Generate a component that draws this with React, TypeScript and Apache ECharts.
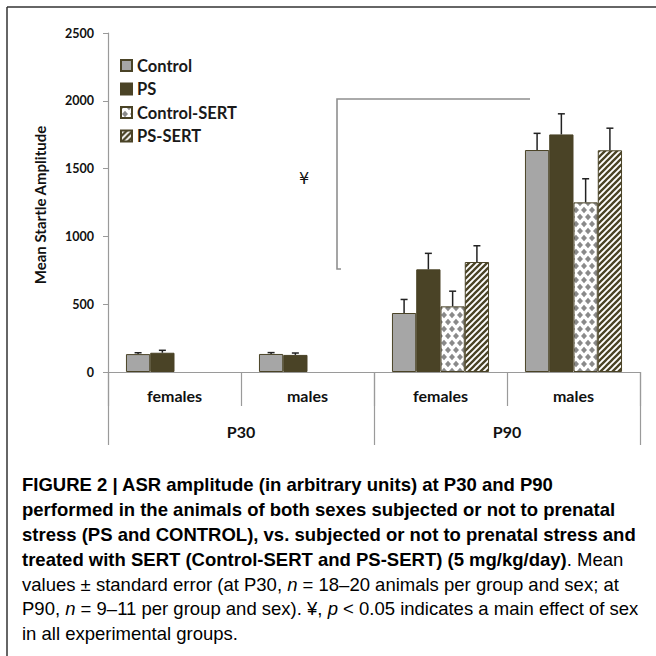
import React, { useEffect, useRef } from "react";
import * as echarts from "echarts";

const categories = ["females", "males", "females", "males"];
const groups = ["P30", "P90"];
const seriesNames = ["Control", "PS", "Control-SERT", "PS-SERT"];
const control = [132, 133, 435, 1637];
const ps = [142, 126, 757, 1752];
const controlSert = [null, null, 484, 1251];
const psSert = [null, null, 811, 1635];
const controlErr = [10, 10, 100, 123];
const psErr = [18, 14, 118, 152];
const controlSertErr = [null, null, 112, 174];
const psSertErr = [null, null, 120, 163];
const yTicks = [0, 500, 1000, 1500, 2000, 2500];

const CAT_GAP = 0.27;

function makeDiamond() {
  const c = document.createElement("canvas");
  c.width = 8;
  c.height = 14;
  const g = c.getContext("2d")!;
  g.fillStyle = "#ffffff";
  g.fillRect(0, 0, 8, 14);
  g.fillStyle = "#8a8a8a";
  const d = (cx: number, cy: number) => {
    g.beginPath();
    g.moveTo(cx, cy - 3.3);
    g.lineTo(cx + 3, cy);
    g.lineTo(cx, cy + 3.3);
    g.lineTo(cx - 3, cy);
    g.closePath();
    g.fill();
  };
  d(0, 0); d(8, 0); d(4, 7); d(0, 14); d(8, 14);
  return c;
}

function makeStripes() {
  const c = document.createElement("canvas");
  c.width = 6;
  c.height = 6;
  const g = c.getContext("2d")!;
  g.fillStyle = "#ffffff";
  g.fillRect(0, 0, 6, 6);
  g.strokeStyle = "#4a4326";
  g.lineWidth = 2.3;
  g.beginPath();
  g.moveTo(-2, 2); g.lineTo(2, -2);
  g.moveTo(-1, 7); g.lineTo(7, -1);
  g.moveTo(4, 8); g.lineTo(8, 4);
  g.stroke();
  return c;
}

export default function App() {
  const ref = useRef<HTMLDivElement>(null);
  useEffect(() => {
    document.body.style.margin = "0";
    const chart = echarts.init(ref.current!, null, { renderer: "svg" });
    const fills: any[] = [
      "#a6a6a6",
      "#4a4326",
      { image: makeDiamond(), repeat: "repeat" },
      { image: makeStripes(), repeat: "repeat" },
    ];
    const values = [control, ps, controlSert, psSert];
    const errs = [controlErr, psErr, controlSertErr, psSertErr];
    const errData: any[] = [];
    values.forEach((arr, si) => {
      arr.forEach((v, ci) => {
        const e = errs[si][ci];
        if (v != null && e != null) errData.push([ci, si, v, e]);
      });
    });
    const lab = { fontFamily: "Lato", fontWeight: "bold", color: "#111" };
    const capB = { fontFamily: "Liberation Sans", fontWeight: "bold", fontSize: 18.5, color: "#231f20" };
    const capR = { fontFamily: "Liberation Sans", fontWeight: "normal", fontSize: 18.5, color: "#505050" };
    const capI = { ...capR, fontStyle: "italic" };
    const rich = { b: capB, r: capR, i: capI };
    const capLines = [
      "{b|FIGURE 2 | ASR amplitude (in arbitrary units) at P30 and P90}",
      "{b|performed in the animals of both sexes subjected or not to prenatal}",
      "{b|stress (PS and CONTROL), vs. subjected or not to prenatal stress and}",
      "{b|treated with SERT (Control-SERT and PS-SERT) (5 mg/kg/day)}{r|. Mean}",
      "{r|values ± standard error (at P30, }{i|n}{r| = 18–20 animals per group and sex; at}",
      "{r|P90, }{i|n}{r| = 9–11 per group and sex). ¥, }{i|p}{r| < 0.05 indicates a main effect of sex}",
      "{r|in all experimental groups.}",
    ];
    const capY = [484, 509, 534, 559, 584, 608, 633];
    const option: any = {
      animation: false,
      backgroundColor: "#ffffff",
      grid: { left: 108, right: 16, top: 33, bottom: 284, containLabel: false },
      legend: {
        orient: "vertical",
        left: 120,
        top: 57,
        padding: 0,
        itemWidth: 11,
        itemHeight: 11,
        itemGap: 6.5,
        icon: "rect",
        data: seriesNames,
        textStyle: { ...lab, fontSize: 16.5, lineHeight: 14, color: "#1a1a1a" },
      },
      xAxis: [
        {
          type: "category",
          data: categories,
          axisLine: { lineStyle: { color: "#9a9a9a", width: 1.2 } },
          axisTick: { show: true, interval: 0, length: 34, lineStyle: { color: "#9a9a9a", width: 1.2 } },
          axisLabel: { ...lab, fontSize: 16, margin: 15, interval: 0 },
        },
        {
          type: "category",
          data: groups,
          position: "bottom",
          axisLine: { show: false },
          axisTick: { show: true, interval: 0, length: 73, lineStyle: { color: "#9a9a9a", width: 1.2 } },
          axisLabel: { ...lab, fontSize: 16, margin: 51, interval: 0 },
        },
      ],
      yAxis: {
        type: "value",
        min: yTicks[0],
        max: yTicks[yTicks.length - 1],
        interval: 500,
        splitLine: { show: false },
        axisLine: { show: true, lineStyle: { color: "#9a9a9a", width: 1.2 } },
        axisTick: { show: true, length: 5, lineStyle: { color: "#9a9a9a" } },
        axisLabel: { ...lab, fontSize: 12.5, margin: 14, formatter: (v: number) => String(v) },
      },
      series: [
        ...seriesNames.map((name, si) => ({
          name,
          type: "bar",
          xAxisIndex: 0,
          data: values[si],
          barGap: "0%",
          barCategoryGap: CAT_GAP * 100 + "%",
          itemStyle: { color: fills[si], borderColor: "#4a4326", borderWidth: 1 },
        })),
        {
          type: "custom",
          xAxisIndex: 0,
          z: 10,
          silent: true,
          data: errData,
          renderItem: (params: any, api: any) => {
            const ci = api.value(0);
            const si = api.value(1);
            const v = api.value(2);
            const e = api.value(3);
            const base = api.coord([ci, v]);
            const top = api.coord([ci, v + e]);
            const cw = api.size([1, 0])[0];
            const bw = (cw * (1 - CAT_GAP)) / 4;
            const x = base[0] + (si - 1.5) * bw;
            const st = { stroke: "#222", lineWidth: 1.5 };
            return {
              type: "group",
              children: [
                { type: "line", shape: { x1: x, y1: base[1], x2: x, y2: top[1] }, style: st },
                { type: "line", shape: { x1: x - 3.5, y1: top[1], x2: x + 3.5, y2: top[1] }, style: st },
              ],
            };
          },
        },
      ],
      graphic: [
        { type: "line", shape: { x1: 7, y1: 7, x2: 656, y2: 7 }, style: { stroke: "#333", lineWidth: 1.5 } },
        { type: "line", shape: { x1: 7, y1: 7, x2: 7, y2: 656 }, style: { stroke: "#333", lineWidth: 1.5 } },
        {
          type: "text",
          x: 40,
          y: 205,
          rotation: Math.PI / 2,
          style: {
            text: "Mean Startle Amplitude",
            align: "center",
            verticalAlign: "middle",
            font: "bold 15px Lato",
            fill: "#111",
          },
        },
        {
          type: "polyline",
          shape: { points: [[530, 99], [337, 99], [337, 269], [341, 269]] },
          style: { stroke: "#8f8f8f", lineWidth: 1.6, fill: null },
        },
        {
          type: "text",
          x: 304,
          y: 178,
          style: { text: "¥", align: "center", verticalAlign: "middle", font: "16px 'DejaVu Sans'", fill: "#111" },
        },
        ...capLines.map((t, i) => ({
          type: "text",
          x: 22,
          y: capY[i],
          style: { text: t, rich, verticalAlign: "middle", align: "left" },
        })),
      ],
    };
    chart.setOption(option);
    return () => chart.dispose();
  }, []);
  return (
    <div
      ref={ref}
      style={{ position: "absolute", left: 0, top: 0, width: 656, height: 656, background: "#fff" }}
    />
  );
}
